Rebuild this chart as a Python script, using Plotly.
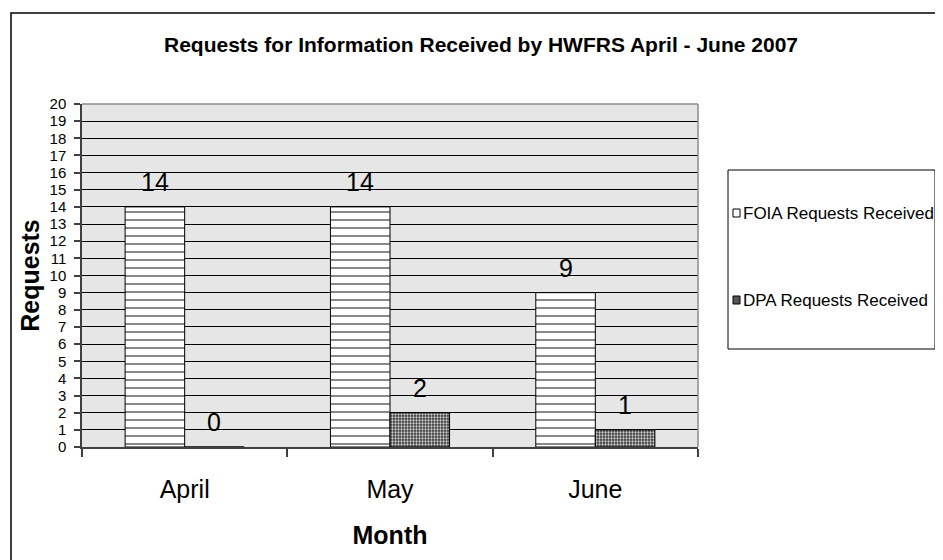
import plotly.graph_objects as go

months = ["April", "May", "June"]
foia = [14, 14, 9]
dpa = [0, 2, 1]
series_names = ["FOIA Requests Received", "DPA Requests Received"]
title_text = "Requests for Information Received by HWFRS April - June 2007"
y_ticks = list(range(0, 21))

# the page body adds an 8px margin, so the figure is laid out 8px up/left
OFF = 8
W, H = 943, 560
L, T = 82 - OFF, 104 - OFF
R, B = W - (698 - OFF), H - (447 - OFF)
PW, PH = W - L - R, H - T - B

def px_x(p):  # reference screen px -> paper x
    return (p - OFF - L) / PW

def px_y(p):  # reference screen px -> paper y
    return (H - B - (p - OFF)) / PH

FONT = "Liberation Sans, Arial, sans-serif"

fig = go.Figure()
fig.add_trace(go.Bar(
    x=months, y=foia, name=series_names[0], showlegend=False,
    marker=dict(color="white", line=dict(color="black", width=1),
                pattern=dict(shape="-", fillmode="replace", bgcolor="white",
                             fgcolor="#6a6a6a", size=8, solidity=0.2)),
))
fig.add_trace(go.Bar(
    x=months, y=dpa, name=series_names[1], showlegend=False,
    marker=dict(color="#555555", line=dict(color="black", width=1),
                pattern=dict(shape=".", fillmode="replace", bgcolor="#3a3a3a",
                             fgcolor="#d0d0d0", size=3, solidity=0.45)),
))

bar_half = PW / 3 * (1 - 0.42) / 4
for vals, sh in ((foia, -bar_half), (dpa, bar_half)):
    for m, v in zip(months, vals):
        fig.add_annotation(x=m, y=v, text=str(v), showarrow=False,
                           xshift=sh, yshift=25, yanchor="middle",
                           font=dict(family=FONT, size=25, color="black"))

# legend (drawn by hand to match the compact Excel layout)
legend_y = [213, 300]
legend_fill = ["white", "#555555"]
for name, yc in zip(series_names, legend_y):
    fig.add_annotation(xref="paper", yref="paper", x=px_x(741), y=px_y(yc),
                       xanchor="left", yanchor="middle", showarrow=False, text=name,
                       font=dict(family=FONT, size=17, color="black"))

shapes = [
    dict(type="rect", xref="paper", yref="paper",
         x0=px_x(11), x1=px_x(990), y0=px_y(600), y1=px_y(13),
         line=dict(color="black", width=1.5), layer="below"),
    dict(type="line", xref="paper", yref="paper", x0=0, x1=1, y0=1, y1=1,
         line=dict(color="#8c8c8c", width=1.5), layer="above"),
    dict(type="line", xref="paper", yref="paper", x0=1, x1=1, y0=0, y1=1,
         line=dict(color="#8c8c8c", width=1.5), layer="above"),
    dict(type="rect", xref="paper", yref="paper",
         x0=px_x(728), x1=px_x(935), y0=px_y(349), y1=px_y(170),
         line=dict(color="black", width=1), fillcolor="white", layer="below"),
]
for yc, fc in zip(legend_y, legend_fill):
    shapes.append(dict(type="rect", xref="paper", yref="paper",
                       x0=px_x(733), x1=px_x(740), y0=px_y(yc + 4), y1=px_y(yc - 4),
                       line=dict(color="black", width=1), fillcolor=fc, layer="above"))

fig.update_layout(
    width=W, height=H,
    margin=dict(l=L, r=R, t=T, b=B, autoexpand=False),
    paper_bgcolor="white", plot_bgcolor="#e6e6e6",
    barmode="group", bargap=0.42, bargroupgap=0,
    font=dict(family=FONT, color="black"),
    title=dict(text="<b>" + title_text + "</b>", xref="container", yref="container",
               x=(481 - OFF) / W, y=1 - (45 - OFF) / H, xanchor="center", yanchor="middle",
               font=dict(family=FONT, size=21, color="black")),
    showlegend=False,
    shapes=shapes,
)
fig.update_xaxes(
    type="category", showgrid=False, showline=True, linecolor="#404040", linewidth=1.5,
    ticks="outside", tickson="boundaries", ticklen=8, tickcolor="#404040", tickwidth=1.5,
    ticklabelstandoff=19,
    tickfont=dict(family=FONT, size=25, color="black"),
    title=dict(text="<b>Month</b>", font=dict(family=FONT, size=25, color="black"), standoff=25),
)
fig.update_yaxes(
    range=[0, 20], tickmode="array", tickvals=y_ticks, ticktext=[str(t) for t in y_ticks],
    showgrid=True, gridcolor="black", gridwidth=1, zeroline=False,
    showline=True, linecolor="#404040", linewidth=1.5,
    ticks="outside", ticklen=6, tickcolor="#404040", tickwidth=1.5,
    ticklabelstandoff=5,
    tickfont=dict(family=FONT, size=15, color="black"),
    title=dict(text="<b>Requests</b>", font=dict(family=FONT, size=25, color="black"), standoff=3),
)

fig.write_html("out.html")
